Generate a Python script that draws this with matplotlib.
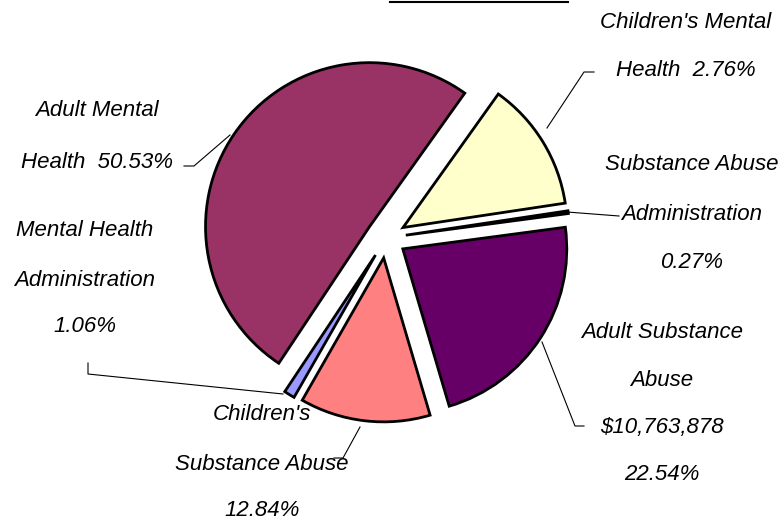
import numpy as np
import matplotlib.pyplot as plt
from matplotlib.lines import Line2D

# Данные (по часовой стрелке, начиная с жёлтого сектора)
labels = ["Children's Mental Health", "Substance Abuse Administration",
          "Adult Substance Abuse", "Children's Substance Abuse",
          "Mental Health Administration", "Adult Mental Health"]
shares = [12.76, 0.27, 22.54, 12.84, 1.06, 50.53]
colors = ['#FFFFCC', '#333333', '#660066', '#FF8080', '#9999FF', '#993366']

# Подписи так, как они видны на картинке
label_lines = [
    ["Children's Mental", "Health  2.76%"],
    ["Substance Abuse", "Administration", "0.27%"],
    ["Adult Substance", "Abuse", "$10,763,878", "22.54%"],
    ["Children's", "Substance Abuse", "12.84%"],
    ["Mental Health", "Administration", "1.06%"],
    ["Adult Mental", "Health  50.53%"],
]
label_x = [686, 692, 662, 262, 85, 97]
label_y = [[22, 70], [165, 215, 263], [332, 380, 427, 474],
           [415, 465, 510], [230, 280, 327], [110, 163]]

# Выноски (в пикселях картинки)
leaders = [
    [(547, 128), (584, 72), (594, 72)],
    [(567, 212), (619, 216)],
    [(542, 342), (575, 426), (584, 426)],
    [(360, 427), (343, 458), (334, 458)],
    [(283, 394), (88, 374), (88, 363)],
    [(230, 135), (194, 166), (184, 166)],
]

W, H = 783, 523
fig = plt.figure(figsize=(W / 100, H / 100), dpi=100)
ax = fig.add_axes([0, 0, 1, 1])

R = 164
# explode в matplotlib задаётся в единицах данных (здесь пиксели)
ax.pie(shares, colors=colors, startangle=54.5, counterclock=False,
       center=(386, H - 238), radius=R, explode=[20] * len(shares),
       wedgeprops=dict(edgecolor='black', linewidth=2.0), frame=True)
ax.set_xlim(0, W)
ax.set_ylim(0, H)
ax.set_aspect('equal')
ax.axis('off')

font = ['Liberation Sans', 'DejaVu Sans']
for lines, x, ys in zip(label_lines, label_x, label_y):
    for txt, y in zip(lines, ys):
        ax.text(x, H - y, txt, ha='center', va='center', fontsize=16,
                style='italic', family=font, color='black')

for pts in leaders:
    xs = [p[0] for p in pts]
    ys = [H - p[1] for p in pts]
    ax.plot(xs, ys, color='black', linewidth=0.8)

# обрезанная линия подчёркивания заголовка сверху
fig.add_artist(Line2D([390 / W, 568 / W], [1 - 1.5 / H] * 2,
                      transform=fig.transFigure, color='black', linewidth=1.5))

fig.savefig('out.png', dpi=100, facecolor='white')
